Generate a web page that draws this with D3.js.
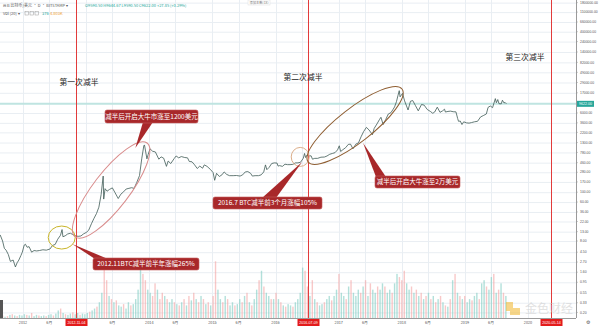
<!DOCTYPE html>
<html><head><meta charset="utf-8">
<script src="https://cdn.jsdelivr.net/npm/d3@7"></script>
<style>html,body{margin:0;padding:0;background:#fff;overflow:hidden}svg{display:block;font-family:"Noto Sans CJK SC","Noto Sans",sans-serif}</style>
</head><body><svg id="c" width="600" height="327"></svg>
<script>
// ---------------- DATA ----------------
const priceDates = ["2011-08-22","2011-09-05","2011-09-15","2011-09-25","2011-10-08","2011-10-20","2011-11-05","2011-11-18","2011-11-28","2011-12-08","2011-12-20","2011-12-28",
"2012-01-08","2012-01-15","2012-01-25","2012-02-05","2012-02-20","2012-03-05","2012-03-20","2012-04-05","2012-04-25","2012-05-15","2012-06-05","2012-06-20","2012-07-05","2012-07-20","2012-08-05","2012-08-14","2012-08-19","2012-09-01","2012-09-15","2012-10-01","2012-10-15","2012-11-01","2012-11-15","2012-12-01","2012-12-15",
"2013-01-01","2013-01-15","2013-02-01","2013-02-15","2013-03-01","2013-03-15","2013-03-28","2013-04-09","2013-04-12","2013-04-20","2013-05-01","2013-05-15","2013-06-01","2013-06-15","2013-07-05","2013-07-20","2013-08-05","2013-08-20","2013-09-05","2013-09-20","2013-10-05","2013-10-20","2013-11-05","2013-11-18","2013-11-30","2013-12-04","2013-12-18","2013-12-25",
"2014-01-05","2014-01-20","2014-02-05","2014-02-25","2014-03-10","2014-03-25","2014-04-10","2014-04-20","2014-05-05","2014-05-25","2014-06-05","2014-06-20","2014-07-05","2014-07-25","2014-08-10","2014-08-20","2014-09-05","2014-09-20","2014-10-05","2014-10-20","2014-11-05","2014-11-15","2014-12-01","2014-12-20",
"2015-01-05","2015-01-14","2015-01-25","2015-02-10","2015-02-25","2015-03-10","2015-03-25","2015-04-10","2015-05-01","2015-05-20","2015-06-10","2015-06-25","2015-07-10","2015-07-25","2015-08-10","2015-08-20","2015-09-05","2015-09-25","2015-10-10","2015-10-25","2015-11-04","2015-11-12","2015-11-25","2015-12-10","2015-12-25",
"2016-01-10","2016-01-16","2016-01-25","2016-02-10","2016-02-25","2016-03-10","2016-03-25","2016-04-10","2016-04-25","2016-05-10","2016-05-25","2016-06-10","2016-06-17","2016-06-23","2016-07-01","2016-07-09","2016-07-25","2016-08-02","2016-08-15","2016-09-01","2016-09-20","2016-10-10","2016-10-25","2016-11-10","2016-11-25","2016-12-10","2016-12-25",
"2017-01-04","2017-01-12","2017-01-25","2017-02-10","2017-02-25","2017-03-10","2017-03-24","2017-04-10","2017-04-25","2017-05-10","2017-05-25","2017-06-10","2017-06-25","2017-07-15","2017-07-25","2017-08-10","2017-08-25","2017-09-02","2017-09-15","2017-09-30","2017-10-15","2017-10-30","2017-11-10","2017-11-20","2017-12-01","2017-12-10","2017-12-17","2017-12-22",
"2018-01-05","2018-01-17","2018-02-06","2018-02-20","2018-03-05","2018-03-20","2018-04-06","2018-04-25","2018-05-10","2018-05-28","2018-06-15","2018-06-29","2018-07-10","2018-07-25","2018-08-10","2018-08-25","2018-09-05","2018-09-10","2018-09-25","2018-10-10","2018-10-25","2018-11-10","2018-11-20","2018-11-25","2018-12-05","2018-12-15","2018-12-25",
"2019-01-10","2019-01-25","2019-02-08","2019-02-25","2019-03-15","2019-04-02","2019-04-20","2019-05-05","2019-05-15","2019-05-28","2019-06-10","2019-06-26","2019-07-02","2019-07-10","2019-07-17","2019-07-30","2019-08-06","2019-08-15","2019-08-22","2019-08-29"];
const priceValues = [11,8,5.5,5,4,2.8,3,2.1,2.6,3.0,3.8,4.5,
6.5,6.8,5.8,6.0,4.5,4.9,4.8,4.9,5.1,5.0,5.3,6.4,6.7,8.8,10.8,14.5,10,10.5,11.5,12.0,11.2,10.5,10.2,10.4,11.5,
12.5,14,20,26,33,46,88,230,70,120,105,115,125,100,72,90,102,118,122,126,122,165,235,560,1100,1150,560,700,
940,830,800,550,620,580,380,500,440,570,650,590,630,600,590,490,480,410,340,385,345,410,380,325,
275,185,265,225,245,285,250,235,235,237,230,245,285,290,265,230,235,235,245,285,410,320,360,440,455,
450,385,395,380,425,415,415,420,455,455,470,580,740,600,680,650,655,550,575,575,610,615,650,710,740,770,890,
1100,820,900,1000,1180,1200,940,1200,1280,1750,2300,2850,2500,1950,2700,3400,4300,4800,3300,4300,5700,6100,7100,8200,10800,15000,19000,13800,
16500,11200,7000,11000,11400,8900,6700,9300,9000,7200,6500,5900,6300,8100,6200,6700,7300,6300,6500,6600,6400,6350,4500,3900,3950,3300,3800,
3600,3550,3650,3800,3900,4900,5300,5700,8000,8600,7900,12600,10200,12000,9700,9600,11600,10100,10300,9622];

const volStart = "2011-08-22";   // bi-weekly volume bars, sign = candle direction (+ up / - down)
const volValues = [3,-4,2,-3,5,-6,4,-3,5,4,
6,-5,4,-8,3,5,-4,3,4,-3,5,6,-4,7,12,-15,8,-6,5,7,-9,6,8,-5,7,6,
8,-10,12,15,-18,25,40,-85,-60,35,-30,25,-28,20,18,-22,15,25,-20,22,30,45,90,-70,-60,45,
40,-35,-55,45,-30,-40,35,-30,25,30,-25,22,-20,25,-30,20,-35,28,-40,30,-25,35,-30,22,-25,20,
-35,-90,45,30,-25,35,-30,20,25,-20,22,30,-25,35,-40,25,-20,30,45,-60,75,-50,40,35,-30,30,
-40,30,-25,20,-18,22,20,-18,25,30,40,80,-75,-50,35,-60,30,-25,20,22,-25,30,35,-28,35,45,
-70,40,35,-30,50,-60,40,35,45,-40,50,-60,35,-55,45,40,-50,45,55,-50,40,45,-40,55,70,-65,
-60,-75,55,45,-50,40,-45,35,-40,30,-35,40,-30,35,-25,30,-35,25,-20,18,-30,60,-70,40,-35,30,
-35,25,30,-28,35,40,-30,55,60,-50,45,65,-70,40,-45,55,-40,35];

const yTickValues = [1800000,1100000,660000,400000,240000,140000,82000,49000,29000,17000,6000,3600,2200,1300,780,460,280,170,100,60,36,22,13,8,4.5,2.7,1.6,0.95,0.55,0.33,0.2];
const yTickLabels = ["1800000.00","1100000.00","660000.00","400000.00","240000.00","140000.00","82000.00","49000.00","29000.00","17000.00","6000.00","3600.00","2200.00","1300.00","780.00","460.00","280.00","170.00","100.00","60.00","36.00","22.00","13.00","8.00","4.50","2.70","1.60","0.95","0.55","0.33","0.20"];
const xTickDates = ["2012-01-01","2012-06-01","2013-01-01","2013-06-01","2014-01-01","2014-06-01","2015-01-01","2015-06-01","2016-01-01","2016-06-01","2017-01-01","2017-06-01","2018-01-01","2018-06-01","2019-01-01","2019-06-01","2020-01-01"];
const xTickLabels = ["2012","6月","2013","6月","2014","6月","2015","6月","2016","6月","2017","6月","2018","6月","2019","6月","2020"];
const halvingDates = ["2012-11-04","2016-07-09","2020-05-14"];
const halvingTitles = ["第一次减半","第二次减半","第三次减半"];
const lastPrice = 9622;
const lastPriceLabel = "9622.00";

// annotations: ellipses between two (date, price) anchors; callouts pointing at (date, price)
const ellipseFrom = [["2012-08-12",9.6],["2012-10-29",9.9],["2016-05-23",619],["2016-07-08",477]];
const ellipseTo   = [null,["2013-12-19",1270],null,["2018-01-02",20770]];
const calloutTexts = ["减半后开启大牛市涨至1200美元","2012.11BTC减半前半年涨幅265%","2016.7 BTC减半前3个月涨幅105%","减半后开启大牛涨至2万美元"];
const calloutTips = [["2013-10-12",982],["2012-10-12",6.9],["2016-06-03",477],["2017-05-22",1274]];

// ---------------- CHART ----------------
const W = 600, H = 327, plotR = 576, plotB = 318;
const svg = d3.select("#c");
const P = d3.utcParse("%Y-%m-%d");
const x = d3.scaleUtc().domain([P("2012-01-01"), P("2020-01-01")]).range([23, 528]);
const y = d3.scaleLog().domain([0.15, 2060000]).range([plotB, 0]);
const v = d3.scaleLinear().domain([0, 100]).range([plotB, 255]);

const plot = svg.append("g");
svg.append("defs").append("clipPath").attr("id","clip").append("rect").attr("x",0).attr("y",0).attr("width",plotR).attr("height",plotB);
plot.attr("clip-path","url(#clip)");

// grid
plot.selectAll(".hg").data(yTickValues).join("line")
  .attr("x1",0).attr("x2",plotR).attr("y1",d=>y(d)+0.5).attr("y2",d=>y(d)+0.5)
  .attr("stroke","#e9eef3").attr("stroke-width",1);
plot.selectAll(".vg").data(xTickDates).join("line")
  .attr("y1",0).attr("y2",plotB).attr("x1",d=>Math.round(x(P(d)))+0.5).attr("x2",d=>Math.round(x(P(d)))+0.5)
  .attr("stroke","#e9eef3").attr("stroke-width",1);

// volume
const vs = P(volStart);
const volData = volValues.map((val,i)=>({d:d3.utcDay.offset(vs,14*i), val}));
plot.selectAll(".vol").data(volData).join("rect")
  .attr("x",d=>x(d.d)-0.7).attr("width",1.4)
  .attr("y",d=>v(Math.abs(d.val))).attr("height",d=>plotB-v(Math.abs(d.val)))
  .attr("fill",d=>d.val>=0?"#7fcbc2":"#f3a3a3").attr("opacity",0.6);

// last price line
plot.append("line").attr("x1",0).attr("x2",plotR).attr("y1",y(lastPrice)).attr("y2",y(lastPrice))
  .attr("stroke","#bfe4e1").attr("stroke-width",2);

// price line
const pdata = priceDates.map((d,i)=>({d:P(d), p:priceValues[i]}));
plot.append("path").datum(pdata)
  .attr("d", d3.line().x(d=>x(d.d)).y(d=>y(d.p)))
  .attr("fill","none").attr("stroke","#3f5a56").attr("stroke-width",0.8);

// halving lines
plot.selectAll(".hl").data(halvingDates).join("line")
  .attr("x1",d=>Math.round(x(P(d)))+0.5).attr("x2",d=>Math.round(x(P(d)))+0.5)
  .attr("y1",0).attr("y2",plotB).attr("stroke","#e23b3b").attr("stroke-width",1);

// ellipses
const ellColors = ["#c9b52a","#d98c8c","#dcae8a","#8f5e32"];
const ellSizes = [[13.5,11.5],[59,18],[9,9.5],[59.5,17]];
ellipseFrom.forEach((a,i)=>{
  const ax = x(P(a[0])), ay = y(a[1]);
  let cx=ax, cy=ay, ang=0, rx=ellSizes[i][0], ry=ellSizes[i][1];
  if (ellipseTo[i]) {
    const bx = x(P(ellipseTo[i][0])), by = y(ellipseTo[i][1]);
    cx=(ax+bx)/2; cy=(ay+by)/2; ang=Math.atan2(by-ay,bx-ax)*180/Math.PI;
    rx=Math.hypot(bx-ax,by-ay)/2;
  }
  plot.append("ellipse").attr("cx",0).attr("cy",0).attr("rx",rx).attr("ry",ry)
    .attr("transform",`translate(${cx},${cy}) rotate(${ang})`)
    .attr("fill","none").attr("stroke",ellColors[i]).attr("stroke-width",1);
});

// halving titles
const titlePos = [[79,85],[303,80],[525,60]];
halvingTitles.forEach((t,i)=>{
  svg.append("text").attr("x",titlePos[i][0]).attr("y",titlePos[i][1]).attr("text-anchor","middle")
    .attr("font-size",7.8).attr("fill","#222").text(t);
});

// callouts
const boxes = [[105,110,93,13],[93,258,106,12],[213,197,109,12],[375,176,85,12]];
const bases = [[[143,122],[153,122]],[[95,259],[108,259]],[[262,198],[276,198]],[[376,177],[386,177]]];
calloutTexts.forEach((t,i)=>{
  const b = boxes[i], tip = calloutTips[i];
  const tx = x(P(tip[0])), ty = y(tip[1]);
  svg.append("path").attr("d",`M${bases[i][0][0]},${bases[i][0][1]}L${tx},${ty}L${bases[i][1][0]},${bases[i][1][1]}Z`)
    .attr("fill","#a8282a");
  svg.append("rect").attr("x",b[0]).attr("y",b[1]).attr("width",b[2]).attr("height",b[3]).attr("rx",2)
    .attr("fill","#a8282a").attr("stroke","#c35a5a").attr("stroke-width",0.6);
  svg.append("text").attr("x",b[0]+b[2]/2).attr("y",b[1]+b[3]/2+2.3).attr("text-anchor","middle")
    .attr("font-size",6.5).attr("fill","#fff").text(t);
});

// right axis
svg.append("rect").attr("x",plotR).attr("y",0).attr("width",W-plotR).attr("height",H).attr("fill","#fff");
svg.append("line").attr("x1",plotR+0.5).attr("x2",plotR+0.5).attr("y1",0).attr("y2",plotB).attr("stroke","#9a9a9a");
yTickValues.forEach((d,i)=>{
  svg.append("line").attr("x1",plotR).attr("x2",plotR+2).attr("y1",y(d)).attr("y2",y(d)).attr("stroke","#9a9a9a").attr("stroke-width",0.5);
  svg.append("text").attr("x",plotR+4).attr("y",y(d)+1.2).attr("font-size",3.4)
    .attr("font-family","Liberation Sans, Arial, sans-serif").attr("fill","#555").text(yTickLabels[i]);
});
svg.append("rect").attr("x",plotR+1).attr("y",y(lastPrice)-3).attr("width",17).attr("height",6).attr("fill","#26a69a");
svg.append("text").attr("x",plotR+3).attr("y",y(lastPrice)+1.3).attr("font-size",3.6)
  .attr("font-family","Liberation Sans, Arial, sans-serif").attr("fill","#fff").text(lastPriceLabel);

// bottom axis
svg.append("rect").attr("x",0).attr("y",plotB).attr("width",W).attr("height",H-plotB).attr("fill","#fff");
svg.append("line").attr("x1",0).attr("x2",plotR).attr("y1",plotB+0.5).attr("y2",plotB+0.5).attr("stroke","#9a9a9a");
const halvX = halvingDates.map(d=>Math.round(x(P(d)))+0.5);
xTickDates.forEach((d,i)=>{
  const tx = x(P(d));
  if (halvX.some(h=>Math.abs(h-tx)<18)) return;   // hidden under the red date label, as in the original
  svg.append("text").attr("x",tx).attr("y",plotB+6).attr("text-anchor","middle").attr("font-size",3.8)
    .attr("fill","#555").text(xTickLabels[i]);
});
halvingDates.forEach((d,i)=>{
  const cx = halvX[i];
  svg.append("rect").attr("x",cx-11).attr("y",plotB+1).attr("width",22).attr("height",7).attr("fill","#e31b1b");
  svg.append("text").attr("x",cx).attr("y",plotB+6).attr("text-anchor","middle").attr("font-size",3.6)
    .attr("font-family","Liberation Sans, Arial, sans-serif").attr("fill","#fff").text(d);
});
svg.append("text").attr("x",588).attr("y",plotB+6).attr("text-anchor","middle").attr("font-size",5).attr("fill","#555").text("⚙");
svg.append("rect").attr("x",0).attr("y",300).attr("width",3).attr("height",18).attr("fill","#555");

// header
const hdr = svg.append("g").attr("font-size",4).attr("font-family","Noto Sans CJK SC, sans-serif");
hdr.append("text").attr("x",3).attr("y",7).attr("fill","#555").text("⊟  B 比特币/美元 · D · BITSTAMP ▾");
hdr.append("text").attr("x",85).attr("y",7).attr("fill","#26a69a").text("O9590.50  H9644.67  L9590.50  C9622.00  +27.85 (+0.29%)");
hdr.append("text").attr("x",3).attr("y",15).attr("fill","#555").text("Vol (20) ▾");
[25,30,35].forEach(px=>hdr.append("rect").attr("x",px).attr("y",11.5).attr("width",3.5).attr("height",3.5).attr("fill","none").attr("stroke","#999").attr("stroke-width",0.5));
hdr.append("text").attr("x",42).attr("y",15).attr("fill","#26a69a").text("376");
hdr.append("text").attr("x",50).attr("y",15).attr("fill","#f0a030").text("4.803K");
svg.append("rect").attr("x",248).attr("y",0).attr("width",22).attr("height",5).attr("fill","#fff").attr("stroke","#ddd").attr("stroke-width",0.5);
svg.append("text").attr("x",259).attr("y",3.8).attr("text-anchor","middle").attr("font-size",3.3).attr("fill","#777").text("添加主数(1X)");

// watermark
svg.append("path").attr("d","M506,302h7v9h-7zM510,308h10v7h-10z").attr("fill","#f0b428").attr("opacity",0.55);
svg.append("text").attr("x",525).attr("y",313).attr("font-size",12).attr("fill","#cfcfcf").attr("opacity",0.6).text("金色财经");
</script></body></html>
